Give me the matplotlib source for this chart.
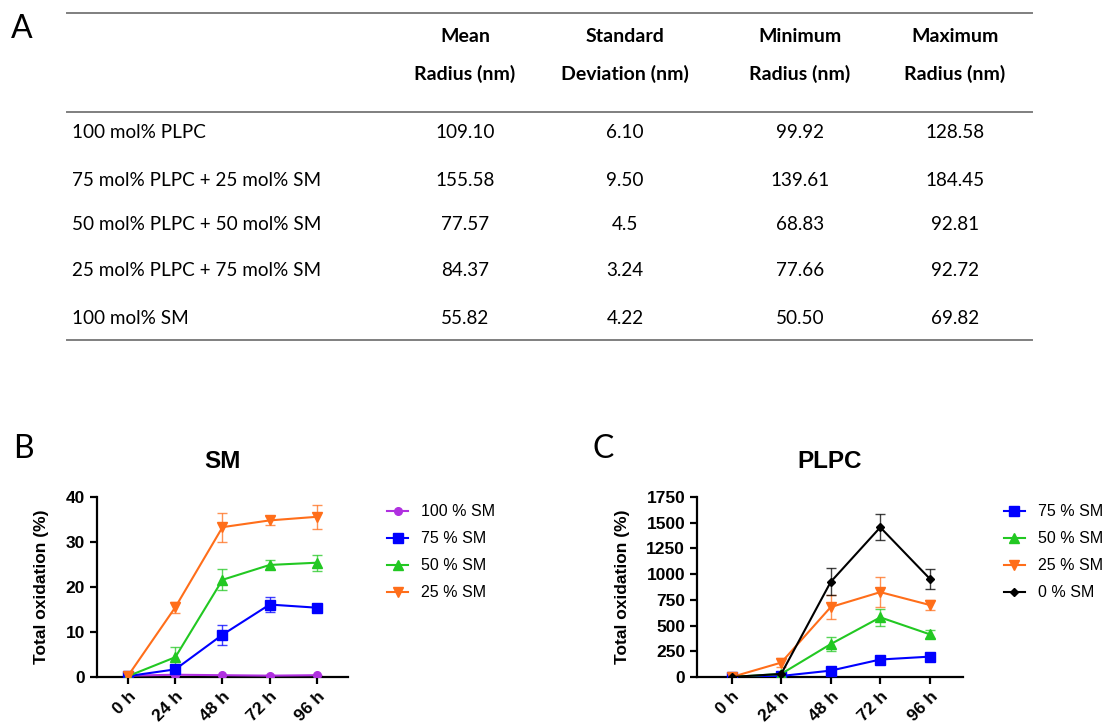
import matplotlib
matplotlib.use("Agg")
import matplotlib.pyplot as plt
from matplotlib.lines import Line2D

# table A
col_top = ["Mean", "Standard", "Minimum", "Maximum"]
col_bottom = ["Radius (nm)", "Deviation (nm)", "Radius (nm)", "Radius (nm)"]
row_names = ["100 mol% PLPC", "75 mol% PLPC + 25 mol% SM", "50 mol% PLPC + 50 mol% SM",
             "25 mol% PLPC + 75 mol% SM", "100 mol% SM"]
mean_r = ["109.10", "155.58", "77.57", "84.37", "55.82"]
std_r = ["6.10", "9.50", "4.5", "3.24", "4.22"]
min_r = ["99.92", "139.61", "68.83", "77.66", "50.50"]
max_r = ["128.58", "184.45", "92.81", "92.72", "69.82"]

# plots B and C
hours = ["0 h", "24 h", "48 h", "72 h", "96 h"]

sm_labels = ["100 % SM", "75 % SM", "50 % SM", "25 % SM"]
sm_vals = [
    [0.3, 0.5, 0.4, 0.3, 0.4],
    [0.2, 1.7, 9.4, 16.1, 15.4],
    [0.2, 4.4, 21.6, 24.9, 25.4],
    [0.3, 15.5, 33.3, 34.8, 35.6],
]
sm_err = [
    [0.1, 0.1, 0.1, 0.1, 0.1],
    [0.1, 0.3, 2.2, 1.6, 0.5],
    [0.1, 2.3, 2.3, 1.0, 1.8],
    [0.1, 1.2, 3.2, 1.0, 2.7],
]

plpc_labels = ["75 % SM", "50 % SM", "25 % SM", "0 % SM"]
plpc_vals = [
    [0, 10, 62, 170, 198],
    [0, 30, 320, 580, 415],
    [0, 140, 680, 825, 700],
    [0, 30, 925, 1455, 955],
]
plpc_err = [
    [0, 5, 10, 15, 12],
    [0, 8, 70, 80, 40],
    [0, 45, 115, 145, 50],
    [0, 10, 130, 125, 95],
]

purple = "#B030E0"
blue = "#0000FF"
green = "#22C822"
orange = "#FF6E1A"
black = "#000000"

plot_font = "Liberation Sans"
table_font = "Lato"

fig = plt.figure(figsize=(11.14, 7.24), dpi=100)

# background axes in pixel coords for table + panel letters
bg = fig.add_axes([0, 0, 1, 1])
bg.set_xlim(0, 1114)
bg.set_ylim(724, 0)
bg.axis("off")

for y in (13, 112, 340):
    bg.add_line(Line2D([67, 1032], [y, y], color="#7f7f7f", lw=1.4))

col_x = [465, 625, 800, 955]
for cx, t, b in zip(col_x, col_top, col_bottom):
    bg.text(cx, 36, t, ha="center", va="center", fontsize=14, fontweight="bold", family=table_font)
    bg.text(cx, 74, b, ha="center", va="center", fontsize=14, fontweight="bold", family=table_font)

row_y = [132, 181, 225, 270, 318]
for i, ry in enumerate(row_y):
    bg.text(72, ry, row_names[i], ha="left", va="center", fontsize=13.6, family=table_font)
    for cx, col in zip(col_x, [mean_r, std_r, min_r, max_r]):
        bg.text(cx, ry, col[i], ha="center", va="center", fontsize=13.6, family=table_font)

for letter, x, y in [("A", 11, 29), ("B", 13, 449), ("C", 593, 449)]:
    bg.text(x, y, letter, fontsize=23, family=table_font, ha="left", va="center")


def draw_panel(rect, title, labels, vals, errs, colors, markers, msizes, yticks, xlim, leg_pos):
    ax = fig.add_axes(rect)
    x = list(range(len(hours)))
    handles = []
    for lab, v, e, c, m, ms in zip(labels, vals, errs, colors, markers, msizes):
        ax.errorbar(x, v, yerr=e, color=c, lw=0, elinewidth=1.0, capsize=3.5,
                    capthick=1.0, alpha=0.75, zorder=2)
        h, = ax.plot(x, v, color=c, marker=m, markersize=ms, lw=1.5, zorder=3, label=lab)
        handles.append(h)
    ax.set_xlim(*xlim)
    ax.set_ylim(yticks[0], yticks[-1])
    ax.set_yticks(yticks)
    ax.set_xticks(x)
    ax.set_xticklabels(hours, rotation=45, ha="right", va="top", rotation_mode="anchor")
    for s in ("top", "right"):
        ax.spines[s].set_visible(False)
    for s in ("left", "bottom"):
        ax.spines[s].set_linewidth(1.6)
    ax.tick_params(width=1.6, length=5, labelsize=12.5)
    for t in ax.get_xticklabels() + ax.get_yticklabels():
        t.set_fontweight("bold")
        t.set_family(plot_font)
    ax.set_ylabel("Total oxidation (%)", fontsize=12.5, fontweight="bold", family=plot_font,
                  labelpad=12)
    ax.set_title(title, fontsize=17.5, fontweight="bold", family=plot_font, pad=21)
    ax.legend(handles=handles, loc="upper left", bbox_to_anchor=leg_pos,
              frameon=False, handlelength=1.3, labelspacing=0.75,
              prop={"family": plot_font, "size": 11.5})
    return ax


draw_panel([97 / 1114, 47 / 724, 251 / 1114, 180 / 724], "SM", sm_labels, sm_vals, sm_err,
           [purple, blue, green, orange], ["o", "s", "^", "v"], [5.5, 7, 7, 7],
           [0, 10, 20, 30, 40], (-0.66, 4.66), (1.1, 1.04))

draw_panel([697 / 1114, 47 / 724, 266 / 1114, 180 / 724], "PLPC", plpc_labels, plpc_vals, plpc_err,
           [blue, green, orange, black], ["s", "^", "v", "D"], [7, 7, 7, 4.5],
           [0, 250, 500, 750, 1000, 1250, 1500, 1750], (-0.7, 4.67), (1.1, 1.04))

fig.savefig("out.png", dpi=100)
